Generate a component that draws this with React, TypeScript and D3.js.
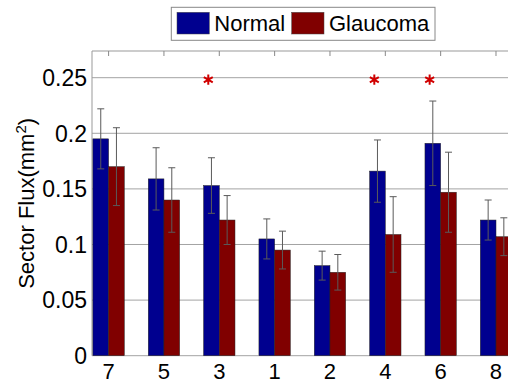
import React from "react";
import { scaleLinear, scalePoint, scaleBand, symbol, symbolAsterisk } from "d3";

// sectors in plotted order
const sectors = ["7", "5", "3", "1", "2", "4", "6", "8"];
const seriesNames = ["Normal", "Glaucoma"];
const normalMean = [0.195, 0.159, 0.153, 0.105, 0.081, 0.166, 0.191, 0.122];
const normalErr = [0.027, 0.028, 0.025, 0.018, 0.013, 0.028, 0.038, 0.018];
const glaucomaMean = [0.17, 0.14, 0.122, 0.095, 0.075, 0.109, 0.147, 0.107];
const glaucomaErr = [0.035, 0.029, 0.022, 0.017, 0.016, 0.034, 0.036, 0.017];
const yTicks = [0, 0.05, 0.1, 0.15, 0.2, 0.25];
const yTickLabels = ["0", "0.05", "0.1", "0.15", "0.2", "0.25"];
const starSectors = ["3", "4", "6"];
const starLevel = 0.25;

const W = 508;
const H = 383;
const left = 92;
const right = 512.6;
const top = 51;
const bottom = 355.7;
const colors = ["#00008f", "#800000"];
const font = "'Liberation Sans', Arial, sans-serif";

export default function App() {
  const x = scalePoint().domain(sectors).range([left, right]).padding(0.3);
  const groupW = x.step() * 0.567;
  const sub = scaleBand().domain(seriesNames).range([-groupW / 2, groupW / 2]);
  const y = scaleLinear().domain([0, 0.274]).range([bottom, top]);
  const star = symbol().type(symbolAsterisk).size(75)();

  const series = [
    { name: seriesNames[0], mean: normalMean, err: normalErr, color: colors[0] },
    { name: seriesNames[1], mean: glaucomaMean, err: glaucomaErr, color: colors[1] },
  ];

  return (
    <svg
      width={W}
      height={H}
      style={{ position: "absolute", left: 0, top: 0, background: "#fff" }}
      fontFamily={font}
    >
      {/* grid */}
      {yTicks.map((t) => (
        <line key={t} x1={left} x2={right} y1={y(t)} y2={y(t)} stroke="#a3a3a3" strokeWidth={1} />
      ))}
      {/* frame */}
      <line x1={left} x2={right} y1={top} y2={top} stroke="#999" />
      <line x1={left} x2={left} y1={top} y2={bottom} stroke="#999" />
      {sectors.map((s) => (
        <line key={"tt" + s} x1={x(s)} x2={x(s)} y1={top} y2={top + 5} stroke="#888" />
      ))}

      {/* bars */}
      {series.map((se) =>
        sectors.map((s, i) => (
          <rect
            key={se.name + s}
            x={(x(s) as number) + (sub(se.name) as number)}
            y={y(se.mean[i])}
            width={sub.bandwidth()}
            height={bottom - y(se.mean[i])}
            fill={se.color}
            stroke="#222"
            strokeWidth={0.5}
          />
        ))
      )}

      {/* error bars */}
      {series.map((se) =>
        sectors.map((s, i) => {
          const cx = (x(s) as number) + (sub(se.name) as number) + sub.bandwidth() / 2;
          const y1 = y(se.mean[i] + se.err[i]);
          const y2 = y(se.mean[i] - se.err[i]);
          return (
            <g key={"e" + se.name + s} stroke="#5a5a5a" strokeWidth={1}>
              <line x1={cx} x2={cx} y1={y1} y2={y2} />
              <line x1={cx - 3.5} x2={cx + 3.5} y1={y1} y2={y1} />
              <line x1={cx - 3.5} x2={cx + 3.5} y1={y2} y2={y2} />
            </g>
          );
        })
      )}

      {/* significance stars */}
      {starSectors.map((s) => (
        <path
          key={"st" + s}
          d={star as string}
          transform={`translate(${(x(s) as number) - 11}, ${y(starLevel) + 2})`}
          fill="none"
          stroke="#d10000"
          strokeWidth={2}
        />
      ))}

      {/* y tick labels */}
      {yTicks.map((t, i) => (
        <text key={"yl" + t} x={87} y={y(t)} dy="0.36em" fontSize={23} textAnchor="end" fill="#000">
          {yTickLabels[i]}
        </text>
      ))}

      {/* x tick labels */}
      {sectors.map((s) => (
        <text key={"xl" + s} x={x(s)} y={379} fontSize={22} textAnchor="middle" fill="#000">
          {s}
        </text>
      ))}

      {/* y axis title */}
      <text
        transform={`translate(33.5, ${(top + bottom) / 2}) rotate(-90)`}
        fontSize={22}
        textAnchor="middle"
        fill="#000"
      >
        Sector Flux(mm
        <tspan fontSize={15} dy={-8}>2</tspan>
        <tspan dy={8}>)</tspan>
      </text>

      {/* legend */}
      <rect x={171.3} y={7.3} width={263.7} height={33} fill="#fff" stroke="#888" />
      {series.map((se, i) => {
        const lx = i === 0 ? 177 : 291.7;
        return (
          <g key={"lg" + se.name}>
            <rect x={lx} y={12.3} width={32.3} height={21.7} fill={se.color} stroke="#444" strokeWidth={0.5} />
            <text x={lx + 37.3} y={30.5} fontSize={22} fill="#000">
              {se.name}
            </text>
          </g>
        );
      })}
    </svg>
  );
}
